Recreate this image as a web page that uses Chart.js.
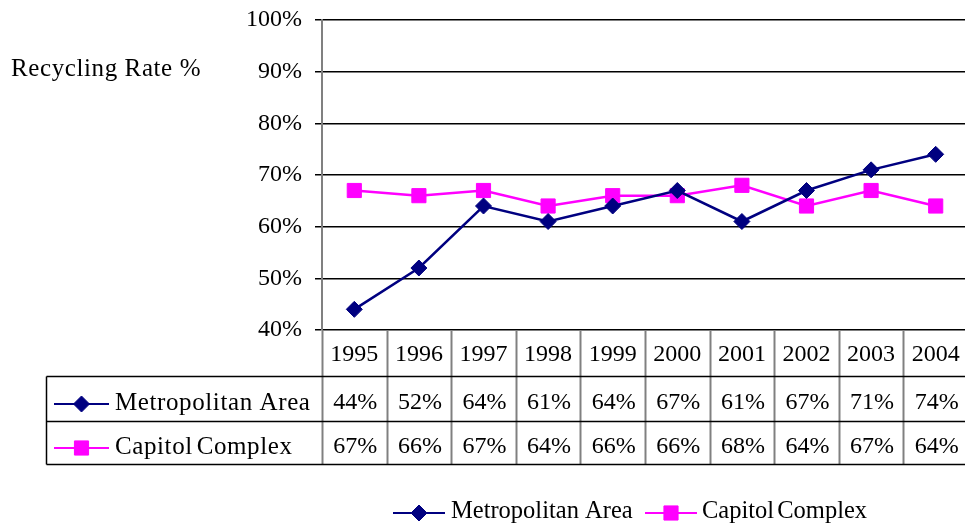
<!DOCTYPE html>
<html>
<head>
<meta charset="utf-8">
<script src="https://cdn.jsdelivr.net/npm/chart.js@4.4.1/dist/chart.umd.min.js"></script>
<style>
  html, body { margin:0; padding:0; background:#fff; overflow:hidden; }
  #wrap { position:relative; width:979px; height:525px; }
</style>
</head>
<body>
<div id="wrap"><canvas id="chart"></canvas></div>
<script>
// data
const years = ['1995','1996','1997','1998','1999','2000','2001','2002','2003','2004'];
const metroArea = [44, 52, 64, 61, 64, 67, 61, 67, 71, 74];
const capitolComplex = [67, 66, 67, 64, 66, 66, 68, 64, 67, 64];
const yTicks = [40, 50, 60, 70, 80, 90, 100];
const seriesNames = ['Metropolitan Area', 'Capitol Complex'];
const seriesColors = ['#000080', '#FF00FF'];
const seriesMarkers = ['rectRot', 'rect'];
const yTitle = 'Recycling Rate %';

const FONT = "'Liberation Serif', 'Times New Roman', serif";

// draws the little line+marker key used in data table and legend
const drawKey = (ctx, x1, x2, y, i)=>{
  ctx.save();
  ctx.strokeStyle = seriesColors[i];
  ctx.lineWidth = 2;
  ctx.beginPath(); ctx.moveTo(x1, y); ctx.lineTo(x2, y); ctx.stroke();
  ctx.fillStyle = seriesColors[i];
  ctx.lineWidth = 1;
  Chart.helpers.drawPoint(ctx, {pointStyle: seriesMarkers[i], radius: i===0 ? 8 : 10, rotation: 0, borderWidth: 1}, (x1+x2)/2, y);
  ctx.restore();
};

const tablePlugin = {
  id: 'dataTable',
  afterDraw(chart){
    const ctx = chart.ctx;
    const area = chart.chartArea;
    const xs = chart.scales.x;
    const step = area.width / years.length;
    const rows = [376.5, 421.5, 464.5];
    const tableLeft = 46.5;
    ctx.save();

    // y title (horizontal, upper left)
    ctx.font = '25px ' + FONT;
    ctx.letterSpacing = '0.6px';
    ctx.fillStyle = '#000';
    ctx.textBaseline = 'middle';
    ctx.textAlign = 'left';
    ctx.fillText(yTitle, 11, 69);
    ctx.letterSpacing = '0px';

    // column separators (grey)
    ctx.strokeStyle = '#808080';
    ctx.lineWidth = 2;
    for(let k=0; k<years.length; k++){
      const x = Math.round(area.left + step*k) + 0.5;
      ctx.beginPath(); ctx.moveTo(x, area.bottom); ctx.lineTo(x, rows[2]); ctx.stroke();
    }
    // table horizontals + left border
    ctx.strokeStyle = '#000';
    ctx.lineWidth = 1.5;
    rows.forEach(y=>{ ctx.beginPath(); ctx.moveTo(tableLeft, y); ctx.lineTo(area.right + 10, y); ctx.stroke(); });
    ctx.beginPath(); ctx.moveTo(tableLeft, rows[0]); ctx.lineTo(tableLeft, rows[2]); ctx.stroke();

    // table values
    const series = [metroArea, capitolComplex];
    const rowMid = [403, 447];
    ctx.font = '24px ' + FONT;
    ctx.textAlign = 'center';
    series.forEach((vals, i)=>{
      vals.forEach((v, j)=>{
        ctx.fillText(v + '%', xs.getPixelForValue(j) + 1, rowMid[i]);
      });
      drawKey(ctx, 54, 109, rowMid[i] + 1, i);
      ctx.save();
      ctx.font = '25px ' + FONT;
      ctx.textAlign = 'left';
      ctx.letterSpacing = '0.6px';
      if(i===1) ctx.wordSpacing = '-3px';
      ctx.fillText(seriesNames[i], 115, rowMid[i]);
      ctx.restore();
    });

    // bottom legend
    const legend = [[393, 445, 451], [645, 697, 702]];
    ctx.font = '24.5px ' + FONT;
    legend.forEach((p, i)=>{
      drawKey(ctx, p[0], p[1], 513, i);
      ctx.textAlign = 'left';
      ctx.wordSpacing = i===1 ? '-3px' : '0px';
      ctx.fillText(seriesNames[i], p[2], 512);
    });
    ctx.restore();
  }
};

new Chart(document.getElementById('chart'), {
  type: 'line',
  data: {
    labels: years,
    datasets: [
      {label: seriesNames[0], data: metroArea, borderColor: seriesColors[0], backgroundColor: seriesColors[0],
       borderWidth: 2.5, pointStyle: seriesMarkers[0], pointRadius: 8, pointBorderWidth: 1, tension: 0},
      {label: seriesNames[1], data: capitolComplex, borderColor: seriesColors[1], backgroundColor: seriesColors[1],
       borderWidth: 2.5, pointStyle: seriesMarkers[1], pointRadius: 10, pointBorderWidth: 1, tension: 0}
    ]
  },
  options: {
    responsive: true,
    maintainAspectRatio: false,
    animation: false,
    layout: {padding: {top: 20, right: 0, left: 0, bottom: 0}},
    plugins: {legend: {display: false}, tooltip: {enabled: false}},
    scales: {
      x: {
        offset: true,
        grid: {display: false, drawTicks: false},
        border: {display: false},
        ticks: {color: '#000', font: {family: FONT, size: 24}, padding: 10, maxRotation: 0, autoSkip: false},
        afterFit: s=>{ s.height = 195; s.paddingLeft = 0; s.paddingRight = 0; }
      },
      y: {
        min: yTicks[0], max: yTicks[yTicks.length-1],
        afterBuildTicks: s=>{ s.ticks = yTicks.map(v=>({value: v})); },
        grid: {color: '#000', lineWidth: 1.5, tickLength: 7, tickColor: '#000'},
        border: {color: '#808080', width: 2},
        ticks: {color: '#000', font: {family: FONT, size: 24}, padding: 13, callback: v=>v + '%'},
        afterFit: s=>{ s.width = 322; s.paddingTop = 0; s.paddingBottom = 0; }
      }
    }
  },
  plugins: [tablePlugin]
});
</script>
</body>
</html>
